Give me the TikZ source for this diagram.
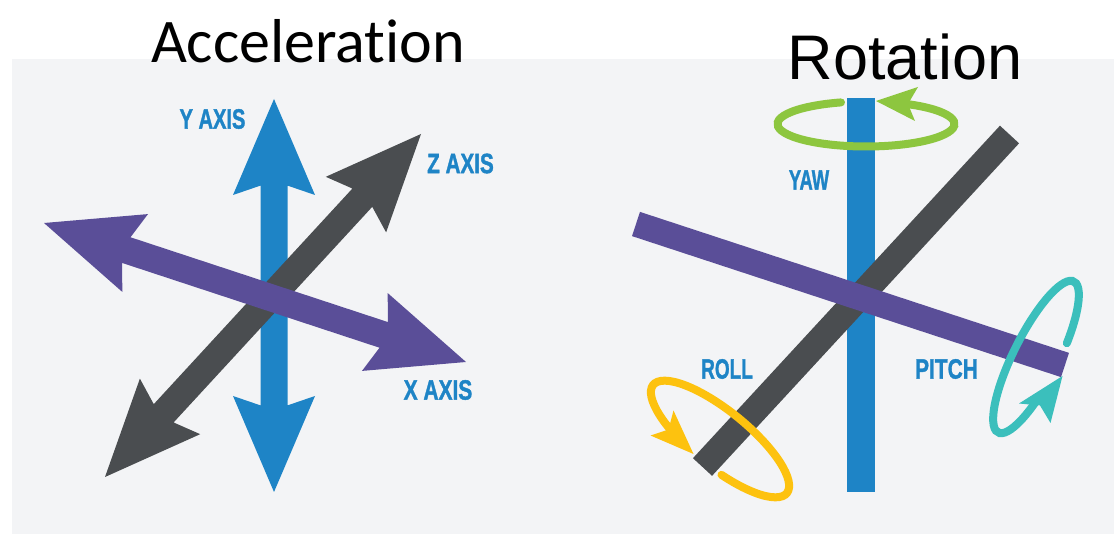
\documentclass[tikz,border=0pt]{standalone}
\usepackage{fontspec}
\setmainfont{Carlito}[Ligatures=NoCommon]
\newfontfamily\lsans{Liberation Sans}
\newfontfamily\labfont{Liberation Sans Bold}[FakeBold=1.5]
\usetikzlibrary{calc}
\definecolor{panel}{HTML}{F3F4F6}
\definecolor{axblue}{HTML}{1E84C6}
\definecolor{axgray}{HTML}{4A4D50}
\definecolor{axpurple}{HTML}{5A4E98}
\definecolor{yawgreen}{HTML}{8DC63F}
\definecolor{rollyellow}{HTML}{FDC20F}
\definecolor{pitchteal}{HTML}{3BBFBC}
% double-headed fat arrow between two tip coordinates
\newcommand{\fatarrow}[3]{%
  \fill[#3] (#1)
   -- ($(#1)!96pt!(#2)!41pt!90:(#2)$)
   -- ($(#1)!86.6pt!(#2)!13.5pt!90:(#2)$)
   -- ($(#2)!86.6pt!(#1)!13.5pt!-90:(#1)$)
   -- ($(#2)!96pt!(#1)!41pt!-90:(#1)$)
   -- (#2)
   -- ($(#2)!96pt!(#1)!41pt!90:(#1)$)
   -- ($(#2)!86.6pt!(#1)!13.5pt!90:(#1)$)
   -- ($(#1)!86.6pt!(#2)!13.5pt!-90:(#2)$)
   -- ($(#1)!96pt!(#2)!41pt!-90:(#2)$)
   -- cycle;}
\tikzset{
  axlabel/.style={text=axblue, inner sep=0pt,
    font=\labfont\fontsize{27.9pt}{30pt}\selectfont},
  title/.style={inner sep=0pt, anchor=base, text=black},
  axbar/.style={line width=#1, line cap=butt},
  ring/.style={line width=8pt, line cap=round},
}
\begin{document}
\begin{tikzpicture}[x=1pt,y=-1pt]
\useasboundingbox (0,0) rectangle (1117,534);
\fill[white] (0,0) rectangle (1117,534);
\fill[panel] (12,59) rectangle (1114,534);

% titles
\node[title, font=\fontsize{62pt}{70pt}\selectfont] (acc) at (308,63) {Acceleration};
\node[title, font=\lsans\fontsize{63pt}{70pt}\selectfont] (rot) at (905,80) {Rotation};

% ---------- Acceleration ----------
\coordinate (ytop) at (274,99);
\coordinate (ybot) at (274,492);
\coordinate (ztop) at (421,134);
\coordinate (zbot) at (105,477);
\coordinate (xleft) at (44,223);
\coordinate (xright) at (466,362);
\fatarrow{ytop}{ybot}{axblue}
\fatarrow{ztop}{zbot}{axgray}
\fatarrow{xleft}{xright}{axpurple}

\node[axlabel] (ylab) at (212.5,119) {\scalebox{0.72}[1]{Y AXIS}};
\node[axlabel] (zlab) at (460.5,163.5) {\scalebox{0.74}[1]{Z AXIS}};
\node[axlabel] (xlab) at (438,390) {\scalebox{0.75}[1]{X AXIS}};

% ---------- Rotation ----------
\coordinate (btop) at (861,98);
\coordinate (bbot) at (861,492);
\coordinate (gtop) at (1009.5,134.5);
\coordinate (gbot) at (702.5,467);
\coordinate (pleft) at (636,224);
\coordinate (pright) at (1065,365);
\draw[axblue, axbar=27.5pt] (btop) -- (bbot);
\draw[axgray, axbar=26pt] (gtop) -- (gbot);
\draw[axpurple, axbar=25.5pt] (pleft) -- (pright);

% yaw ring
\coordinate (yawc) at (866,124);
\draw[yawgreen, ring] (yawc) ++(-62.4:88.5 and 22.5)
  arc[start angle=-62.4, end angle=253.6, x radius=88.5, y radius=22.5];
\fill[yawgreen] (876,101) -- (918,87) -- (908,104) -- (915,121) -- cycle;

% roll ring
\coordinate (rollc) at (720,439);
\begin{scope}[shift={(rollc)}, rotate=-39]
  \draw[rollyellow, ring] (118:86 and 28)
    arc[start angle=118, end angle=434, x radius=86, y radius=28];
\end{scope}
\fill[rollyellow] (693.5,454) -- (673.5,410.5) -- (668.5,429.5) -- (650.5,435.5) -- cycle;

% pitch ring
\coordinate (pitchc) at (1036,357);
\begin{scope}[shift={(pitchc)}, rotate=63.4]
  \draw[pitchteal, ring] (120:84.5 and 22.5)
    arc[start angle=120, end angle=432, x radius=84.5, y radius=22.5];
\end{scope}
\fill[pitchteal] (1062.5,376) -- (1019,403.5) -- (1040,405.5) -- (1050.5,423) -- cycle;

\node[axlabel] (yawlab) at (809,180) {\scalebox{0.66}[1]{YAW}};
\node[axlabel] (rolllab) at (727,369) {\scalebox{0.68}[1]{ROLL}};
\node[axlabel] (pitchlab) at (946.5,369) {\scalebox{0.75}[1]{PITCH}};
\end{tikzpicture}
\end{document}
